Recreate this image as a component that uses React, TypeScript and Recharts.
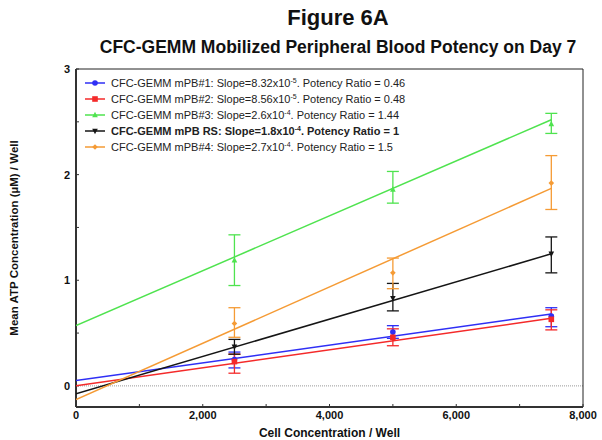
import React from "react";
import {
  ComposedChart,
  Scatter,
  ErrorBar,
  XAxis,
  YAxis,
  ReferenceLine,
} from "recharts";

// cell concentrations where the means were measured
const cellX = [2500, 5000, 7500];
// regression lines run from 0 to the last dose
const fitX = [0, 7500];

const mpb1Mean = [0.25, 0.51, 0.66];
const mpb1Low = [0.17, 0.45, 0.56];
const mpb1High = [0.32, 0.57, 0.74];
const mpb1Fit = [0.05, 0.68];

const mpb2Mean = [0.23, 0.46, 0.63];
const mpb2Low = [0.12, 0.38, 0.53];
const mpb2High = [0.3, 0.54, 0.72];
const mpb2Fit = [0.0, 0.64];

const mpb3Mean = [1.19, 1.86, 2.48];
const mpb3Low = [0.95, 1.73, 2.39];
const mpb3High = [1.43, 2.03, 2.58];
const mpb3Fit = [0.57, 2.52];

const rsMean = [0.37, 0.83, 1.25];
const rsLow = [0.3, 0.71, 1.07];
const rsHigh = [0.44, 0.97, 1.41];
const rsFit = [-0.075, 1.25];

const mpb4Mean = [0.59, 1.07, 1.92];
const mpb4Low = [0.46, 0.92, 1.67];
const mpb4High = [0.74, 1.21, 2.18];
const mpb4Fit = [-0.13, 1.87];

const xTicks = [0, 1000, 2000, 3000, 4000, 5000, 6000, 7000, 8000];
const yTicks = [0, 0.5, 1, 1.5, 2, 2.5, 3];

type Kind = "circle" | "square" | "triUp" | "triDown" | "diamond";

const SERIES = [
  { name: "CFC-GEMM mPB#1: Slope=8.32x10", exp: "-5", ratio: ". Potency Ratio = 0.46", color: "#2f2ff5", kind: "circle" as Kind, mean: mpb1Mean, low: mpb1Low, high: mpb1High, fit: mpb1Fit, bold: false },
  { name: "CFC-GEMM mPB#2: Slope=8.56x10", exp: "-5", ratio: ". Potency Ratio = 0.48", color: "#f42a2a", kind: "square" as Kind, mean: mpb2Mean, low: mpb2Low, high: mpb2High, fit: mpb2Fit, bold: false },
  { name: "CFC-GEMM mPB#3: Slope=2.6x10", exp: "-4", ratio: ". Potency Ratio = 1.44", color: "#4fe34f", kind: "triUp" as Kind, mean: mpb3Mean, low: mpb3Low, high: mpb3High, fit: mpb3Fit, bold: false },
  { name: "CFC-GEMM mPB RS: Slope=1.8x10", exp: "-4", ratio: ". Potency Ratio = 1", color: "#151515", kind: "triDown" as Kind, mean: rsMean, low: rsLow, high: rsHigh, fit: rsFit, bold: true },
  { name: "CFC-GEMM mPB#4: Slope=2.7x10", exp: "-4", ratio: ". Potency Ratio = 1.5", color: "#f59b35", kind: "diamond" as Kind, mean: mpb4Mean, low: mpb4Low, high: mpb4High, fit: mpb4Fit, bold: false },
];

const FONT = "'Liberation Sans', Arial, Helvetica, sans-serif";

function Marker({ kind, color, cx, cy }: { kind: Kind; color: string; cx: number; cy: number }) {
  const r = 2.8;
  switch (kind) {
    case "circle":
      return <circle cx={cx} cy={cy} r={r} fill={color} />;
    case "square":
      return <rect x={cx - r} y={cy - r} width={r * 2} height={r * 2} fill={color} />;
    case "triUp":
      return <polygon points={`${cx},${cy - r - 0.5} ${cx - r},${cy + r - 0.5} ${cx + r},${cy + r - 0.5}`} fill={color} />;
    case "triDown":
      return <polygon points={`${cx},${cy + r + 0.5} ${cx - r},${cy - r + 0.5} ${cx + r},${cy - r + 0.5}`} fill={color} />;
    default:
      return <polygon points={`${cx},${cy - r} ${cx + r},${cy} ${cx},${cy + r} ${cx - r},${cy}`} fill={color} />;
  }
}

function LegendBox() {
  return (
    <div style={{ position: "absolute", left: 85, top: 75, fontFamily: FONT, fontSize: 11, color: "#222" }}>
      {SERIES.map((s) => (
        <div key={s.name} style={{ height: 16, display: "flex", alignItems: "center", fontWeight: s.bold ? 700 : 400, whiteSpace: "nowrap" }}>
          <svg width={20} height={10} style={{ marginRight: 6 }}>
            <line x1={0} y1={5} x2={20} y2={5} stroke={s.color} strokeWidth={1.5} />
            <Marker kind={s.kind} color={s.color} cx={10} cy={5} />
          </svg>
          <span>
            {s.name}
            <sup style={{ fontSize: 7, verticalAlign: "4px", lineHeight: 0 }}>{s.exp}</sup>
            {s.ratio}
          </span>
        </div>
      ))}
    </div>
  );
}

const fmtX = (v: number) => (v % 2000 === 0 ? v.toLocaleString("en-US") : "");
const fmtY = (v: number) => (Number.isInteger(v) ? String(v) : "");

export default function App() {
  return (
    <div style={{ position: "absolute", left: 0, top: 0, width: 602, height: 440, background: "#fff", fontFamily: FONT }}>
      <div style={{ position: "absolute", left: 0, width: 676, top: 5, textAlign: "center", fontSize: 22, fontWeight: 700, color: "#111" }}>
        Figure 6A
      </div>
      <div style={{ position: "absolute", left: 0, width: 676, top: 37, textAlign: "center", fontSize: 17.5, fontWeight: 700, color: "#111" }}>
        CFC-GEMM Mobilized Peripheral Blood Potency on Day 7
      </div>
      <div style={{ position: "absolute", left: 0, top: 0 }}>
        <ComposedChart width={602} height={440} margin={{ top: 69, right: 19, left: 0, bottom: 0 }}>
          <XAxis
            type="number"
            dataKey="x"
            domain={[0, 8000]}
            ticks={xTicks}
            tickFormatter={fmtX}
            tick={{ fontSize: 11, fontWeight: 700, fill: "#111", fontFamily: FONT }}
            tickSize={-3}
            tickMargin={7}
            axisLine={{ stroke: "#333", strokeWidth: 2 }}
            tickLine={{ stroke: "#333" }}
            height={33}
            allowDataOverflow
            label={{ value: "Cell Concentration / Well", position: "insideBottom", offset: 3, fontSize: 12, fontWeight: 700, fill: "#111", fontFamily: FONT }}
          />
          <YAxis
            type="number"
            domain={[-0.2, 3]}
            ticks={yTicks}
            tickFormatter={fmtY}
            tick={{ fontSize: 11, fontWeight: 700, fill: "#111", fontFamily: FONT }}
            tickSize={-3}
            tickMargin={9}
            axisLine={{ stroke: "#333", strokeWidth: 2 }}
            tickLine={{ stroke: "#333" }}
            width={76}
            allowDataOverflow
            label={{ value: "Mean ATP Concentration (\u00b5M) / Well", angle: -90, position: "insideLeft", offset: 14, fontSize: 11.5, fontWeight: 700, fill: "#111", fontFamily: FONT, style: { textAnchor: "middle" } }}
          />
          <ReferenceLine y={0} stroke="#999" strokeDasharray="1 1" />
          <ReferenceLine y={3} stroke="#222" strokeWidth={1} />
          <ReferenceLine x={8000} stroke="#222" strokeWidth={1} />
          {SERIES.map((s, si) => (
            <Scatter
              key={`fit${si}`}
              data={fitX.map((x, i) => ({ x, y: s.fit[i] }))}
              dataKey="y"
              line={{ stroke: s.color, strokeWidth: 1.5 }}
              shape={() => null}
              isAnimationActive={false}
            />
          ))}
          {SERIES.map((s, si) => (
            <Scatter
              key={`pts${si}`}
              data={cellX.map((x, i) => ({ x, y: s.mean[i], err: [s.mean[i] - s.low[i], s.high[i] - s.mean[i]] }))}
              dataKey="y"
              fill={s.color}
              shape={(p: any) => <Marker kind={s.kind} color={s.color} cx={p.cx} cy={p.cy} />}
              isAnimationActive={false}
            >
              <ErrorBar dataKey="err" direction="y" width={6} stroke={s.color} strokeWidth={1.3} isAnimationActive={false} />
            </Scatter>
          ))}
        </ComposedChart>
      </div>
      <LegendBox />
    </div>
  );
}
